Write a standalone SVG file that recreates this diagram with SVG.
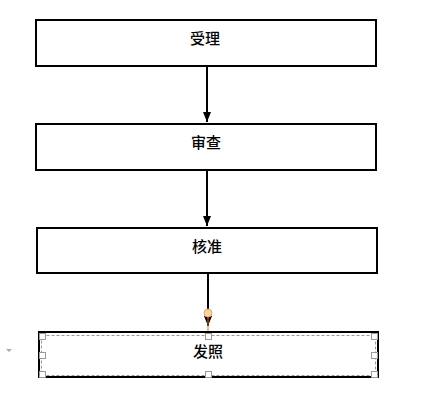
<svg xmlns="http://www.w3.org/2000/svg" width="421" height="408" viewBox="0 0 421 408">
  <style>
    .box { fill: #ffffff; stroke: #000000; stroke-width: 2; }
    .lbl { font-family: "Noto Sans CJK SC", "Noto Sans", sans-serif; font-size: 15px; font-weight: 500; fill: #000000; text-anchor: middle; }
    .conn { stroke: #000000; stroke-width: 2; fill: none; }
    .handle { fill: #ffffff; stroke: #999999; stroke-width: 1; }
    .sel { fill: none; stroke: #999999; stroke-width: 1; stroke-dasharray: 3 2; }
  </style>
  <defs>
    <marker id="arr" viewBox="0 0 10 8" refX="10" refY="4" markerWidth="10" markerHeight="8" markerUnits="userSpaceOnUse" orient="auto">
      <path d="M0,0 L10,4 L0,8 z" fill="#000000"/>
    </marker>
  </defs>
  <rect width="421" height="408" fill="#ffffff"/>
  <g id="connectors">
    <line class="conn" x1="207" y1="67" x2="207" y2="122" marker-end="url(#arr)"/>
    <line class="conn" x1="207" y1="171" x2="207" y2="226" marker-end="url(#arr)"/>
    <line class="conn" x1="208" y1="274" x2="208" y2="326" marker-end="url(#arr)"/>
    <line x1="208" y1="313" x2="208" y2="331" stroke="#e8741e" stroke-width="1"/>
    <circle cx="208" cy="313" r="4" fill="#fdd29a" stroke="#f2a46a" stroke-width="1"/>
  </g>
  <g id="node-1">
    <rect class="box" x="36" y="20" width="340" height="46"/>
    <text class="lbl" x="205" y="44">受理</text>
  </g>
  <g id="node-2">
    <rect class="box" x="36" y="124" width="340" height="46"/>
    <text class="lbl" x="206" y="148">审查</text>
  </g>
  <g id="node-3">
    <rect class="box" x="37" y="228" width="340" height="45"/>
    <text class="lbl" x="207" y="252">核准</text>
  </g>
  <g id="node-4">
    <rect class="box" x="39" y="332" width="339" height="45"/>
    <text class="lbl" x="208" y="357">发照</text>
    <rect class="sel" x="41.5" y="335.5" width="334" height="40"/>
    <rect class="handle" x="39.5" y="333.5" width="6" height="6"/>
    <rect class="handle" x="205.5" y="333.5" width="6" height="6"/>
    <rect class="handle" x="371.5" y="333.5" width="6" height="6"/>
    <rect class="handle" x="39.5" y="352.5" width="6" height="6"/>
    <rect class="handle" x="371.5" y="352.5" width="6" height="6"/>
    <rect class="handle" x="39.5" y="371.5" width="6" height="6"/>
    <rect class="handle" x="205.5" y="371.5" width="6" height="6"/>
    <rect class="handle" x="371.5" y="371.5" width="6" height="6"/>
  </g>
  <polygon points="6,349 12,349 9,352" fill="#aaaaaa"/>
</svg>
